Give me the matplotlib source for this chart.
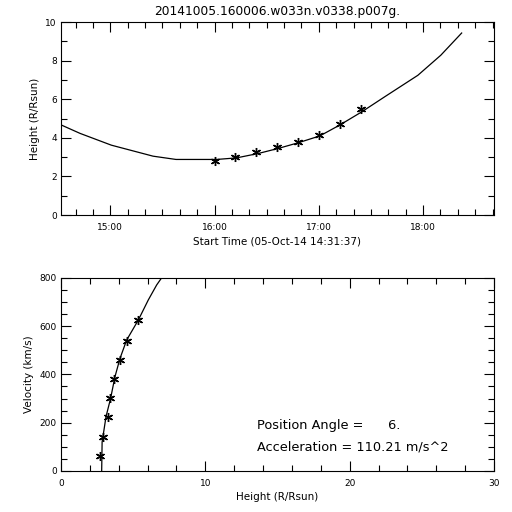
import matplotlib
matplotlib.use('Agg')
import matplotlib.pyplot as plt
from matplotlib.ticker import MultipleLocator, FuncFormatter

# --- DATA ---
TITLE = '20141005.160006.w033n.v0338.p007g.'
START_TIME = '05-Oct-14 14:31:37'

# height-time measurements
obs_times = ['16:00', '16:12', '16:24', '16:36', '16:48', '17:00', '17:12', '17:24']
obs_height = [2.78, 3.00, 3.28, 3.52, 3.76, 4.14, 4.71, 5.47]

# fitted height-time curve (hours, R/Rsun)
fit_time = [14.54, 14.71, 15.01, 15.41, 15.63, 16.02, 16.21, 16.42, 16.61,
            16.80, 17.01, 17.20, 17.41, 17.63, 17.95, 18.17, 18.37]
fit_height = [4.64, 4.23, 3.62, 3.05, 2.88, 2.88, 2.96, 3.19, 3.45,
              3.74, 4.10, 4.66, 5.34, 6.12, 7.24, 8.28, 9.43]

# velocity-height points
vel_height = [2.70, 2.93, 3.28, 3.40, 3.67, 4.09, 4.59, 5.36]
vel_speed = [62, 139, 222, 301, 380, 459, 539, 625]

# fitted velocity-height curve
vfit_height = [2.82, 2.85, 2.89, 3.12, 3.44, 3.74, 4.09, 4.55, 5.36, 6.05, 6.63, 6.98]
vfit_speed = [0, 120, 135, 225, 301, 390, 466, 542, 625, 708, 770, 800]

POSITION_ANGLE = 6
ACCELERATION = 110.21

# --- STYLE ---
TICK_FS = 6.5
LABEL_FS = 7.5
plt.rcParams['font.family'] = 'DejaVu Sans'
plt.rcParams['axes.linewidth'] = 0.8


def hours(s):
    h, m = s.split(':')
    return int(h) + int(m) / 60.0


def style_axes(ax):
    ax.tick_params(which='both', direction='in', top=True, right=True,
                   labelsize=TICK_FS, width=0.8)
    ax.tick_params(which='major', length=7)
    ax.tick_params(which='minor', length=4)
    ax.tick_params(axis='x', which='major', pad=6)
    ax.tick_params(axis='y', which='major', pad=3)


fig = plt.figure(figsize=(5.12, 5.12), dpi=100)

# --- height vs time ---
ax1 = fig.add_axes([0.1191, 0.580, 0.8457, 0.377])
ax1.plot(fit_time, fit_height, color='black', lw=0.9)
ax1.plot([hours(t) for t in obs_times], obs_height, linestyle='none',
         marker=(6, 2, 0), markersize=6.5, markeredgewidth=1.0, color='black')
ax1.set_xlim(14 + 31 / 60 + 37 / 3600, 18.68)
ax1.set_ylim(0, 10)
ax1.xaxis.set_major_locator(MultipleLocator(1))
ax1.xaxis.set_minor_locator(MultipleLocator(1 / 6))
ax1.xaxis.set_major_formatter(FuncFormatter(lambda x, p: '%02d:00' % int(round(x))))
ax1.yaxis.set_major_locator(MultipleLocator(2))
ax1.yaxis.set_minor_locator(MultipleLocator(1))
style_axes(ax1)
ax1.set_title(TITLE, fontsize=8.8, pad=5)
ax1.set_xlabel('Start Time (%s)' % START_TIME, fontsize=LABEL_FS, labelpad=3)
ax1.set_ylabel('Height (R/Rsun)', fontsize=LABEL_FS, labelpad=4)

# --- velocity vs height ---
ax2 = fig.add_axes([0.1191, 0.0801, 0.8457, 0.3775])
ax2.plot(vfit_height, vfit_speed, color='black', lw=0.9)
ax2.plot(vel_height, vel_speed, linestyle='none',
         marker=(6, 2, 0), markersize=6.5, markeredgewidth=1.0, color='black')
ax2.set_xlim(0, 30)
ax2.set_ylim(0, 800)
ax2.xaxis.set_major_locator(MultipleLocator(10))
ax2.xaxis.set_minor_locator(MultipleLocator(2))
ax2.yaxis.set_major_locator(MultipleLocator(200))
ax2.yaxis.set_minor_locator(MultipleLocator(50))
style_axes(ax2)
ax2.set_xlabel('Height (R/Rsun)', fontsize=LABEL_FS, labelpad=3)
ax2.set_ylabel('Velocity (km/s)', fontsize=LABEL_FS, labelpad=4)

ax2.text(0.452, 0.233, 'Position Angle =      %d.' % POSITION_ANGLE,
         transform=ax2.transAxes, fontsize=9.3, va='center', ha='left')
ax2.text(0.452, 0.126, 'Acceleration = %.2f m/s^2' % ACCELERATION,
         transform=ax2.transAxes, fontsize=9.3, va='center', ha='left')

fig.savefig('out.png', dpi=100, facecolor='white')
